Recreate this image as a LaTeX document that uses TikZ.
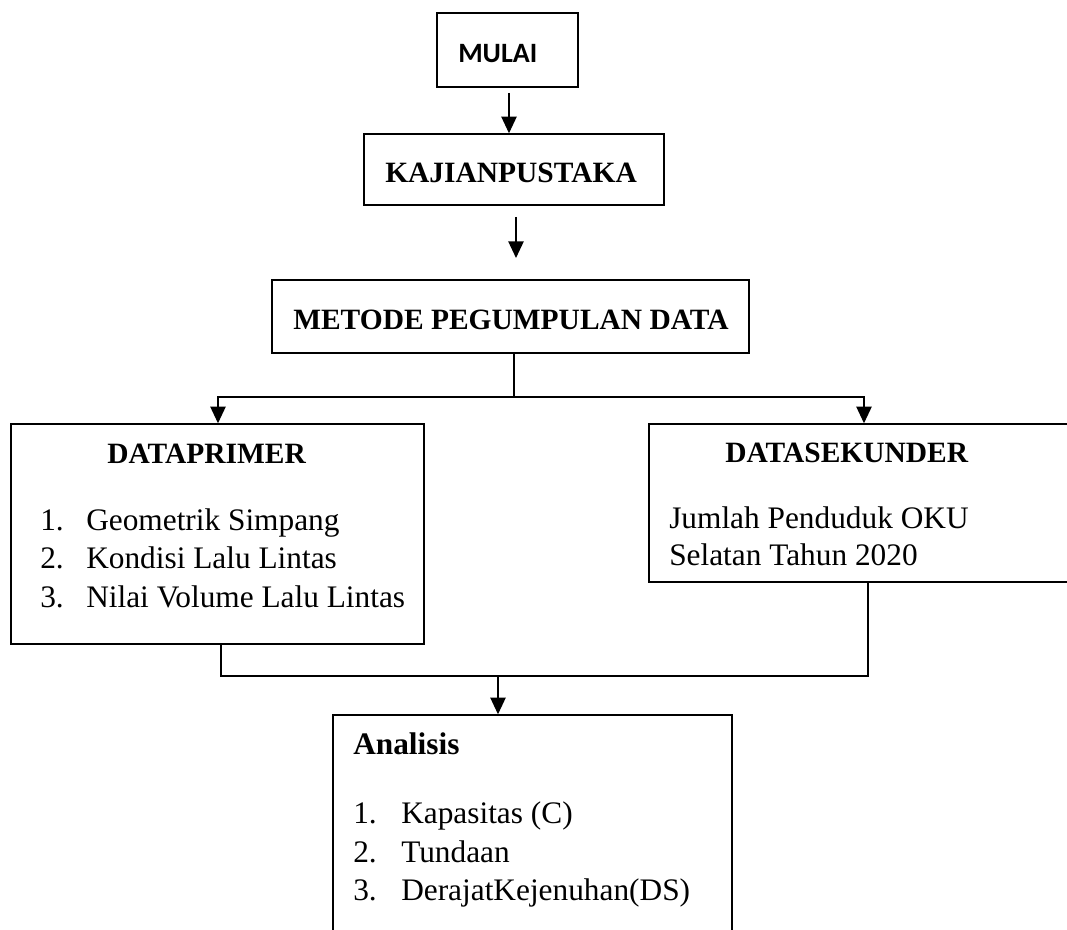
\documentclass[tikz,border=0pt]{standalone}
\usepackage{fontspec}
\setmainfont{Liberation Serif}
\newfontfamily\calibfont{Carlito}
\usetikzlibrary{arrows.meta}
\begin{document}
\begin{tikzpicture}[x=0.75pt,y=-0.75pt,
  box/.style={draw,line width=1.1pt,inner sep=0pt,rectangle},
  txt/.style={anchor=base west,inner sep=0pt,font=\fontsize{23.5}{28}\selectfont},
  ttl/.style={anchor=base west,inner sep=0pt,font=\fontsize{22.1}{27}\selectfont\bfseries},
  conn/.style={line width=1.1pt},
  arr/.style={line width=1.1pt,-{Triangle[length=12.5pt,width=11.5pt]}}]
\useasboundingbox (0,0) rectangle (1067,930);
\clip (0,0) rectangle (1067,930);

% boxes
\node[box,minimum width=105.75pt,minimum height=55.5pt] (mulai) at (507.5,50) {};
\node[box,minimum width=225pt,minimum height=53.25pt] (kajian) at (514,169.5) {};
\node[box,minimum width=357.75pt,minimum height=54.75pt] (metode) at (510.5,316.5) {};
\node[box,minimum width=309.75pt,minimum height=165pt] (primer) at (217.5,534) {};
\node[box,minimum width=330.75pt,minimum height=118.5pt] (sekunder) at (869.5,503) {};
\node[box,minimum width=299.25pt,minimum height=172.5pt] (analisis) at (532.5,830) {};

% texts
\node[anchor=base west,inner sep=0pt,font=\calibfont\fontsize{21}{25}\selectfont\bfseries] (tmulai) at (458,63) {MULAI};
\node[ttl] (tkajian) at (385,183) {KAJIANPUSTAKA};
\node[ttl] (tmetode) at (293,330) {METODE PEGUMPULAN DATA};
\node[ttl] (tprimer) at (107,463) {DATAPRIMER};
\node[txt] (p1n) at (40,530) {1.};
\node[txt] (p1) at (86,530) {Geometrik Simpang};
\node[txt] (p2n) at (40,568) {2.};
\node[txt] (p2) at (86,568) {Kondisi Lalu Lintas};
\node[txt] (p3n) at (40,607) {3.};
\node[txt] (p3) at (86,607) {Nilai Volume Lalu Lintas};
\node[ttl] (tsekunder) at (725,462) {DATASEKUNDER};
\node[txt] (s1) at (669,528) {Jumlah Penduduk OKU};
\node[txt] (s2) at (669,565) {Selatan Tahun 2020};
\node[ttl,font=\fontsize{23.5}{28}\selectfont\bfseries] (tanalisis) at (353,754) {Analisis};
\node[txt] (a1n) at (353,823) {1.};
\node[txt] (a1) at (401,823) {Kapasitas (C)};
\node[txt] (a2n) at (353,862) {2.};
\node[txt] (a2) at (401,862) {Tundaan};
\node[txt] (a3n) at (353,900) {3.};
\node[txt] (a3) at (401,900) {DerajatKejenuhan(DS)};

% connectors
\coordinate (c1) at (509,93);
\draw[arr] (c1) -- (c1 |- kajian.north);
\coordinate (c2s) at (516,217);
\coordinate (c2e) at (516,258);
\draw[arr] (c2s) -- (c2e);
\coordinate (m) at (514,397);
\coordinate (xl) at (218,0);
\coordinate (xr) at (864,0);
\draw[conn] (metode.south -| m) -- (m);
\draw[arr] (m) -| (primer.north -| xl);
\draw[arr] (m) -| (sekunder.north -| xr);
\coordinate (j) at (498,676);
\coordinate (pl) at (221,0);
\coordinate (sr) at (868,0);
\draw[conn] (primer.south -| pl) |- (j);
\draw[conn] (sekunder.south -| sr) |- (j);
\draw[arr] (j) -- (analisis.north -| j);
\end{tikzpicture}
\end{document}
